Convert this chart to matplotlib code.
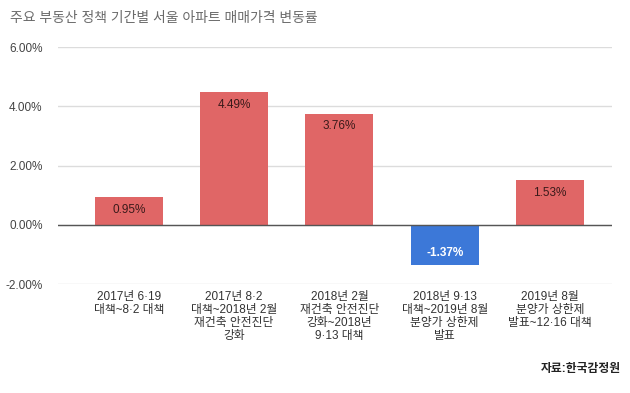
import matplotlib
matplotlib.use("Agg")
import matplotlib.pyplot as plt
from matplotlib.ticker import FuncFormatter

# 숫자/기호는 Liberation Sans, 한글은 Noto Sans CJK KR 로 넘어감
plt.rcParams['font.family'] = ['Liberation Sans', 'Noto Sans CJK KR', 'DejaVu Sans']

# 데이터: 정책 기간별 서울 아파트 매매가격 변동률 (%)
기간 = [
    "2017년 6·19\n대책~8·2 대책",
    "2017년 8·2\n대책~2018년 2월\n재건축 안전진단\n강화",
    "2018년 2월\n재건축 안전진단\n강화~2018년\n9·13 대책",
    "2018년 9·13\n대책~2019년 8월\n분양가 상한제\n발표",
    "2019년 8월\n분양가 상한제\n발표~12·16 대책",
]
변동률 = [0.95, 4.49, 3.76, -1.37, 1.53]
y_눈금 = [-2, 0, 2, 4, 6]

RED = "#e06666"
BLUE = "#3c78d8"

fig = plt.figure(figsize=(6.3, 3.93), dpi=100)
ax = fig.add_axes([0.092, 0.277, 0.879, 0.603])

x = list(range(len(기간)))
cores = [RED if v >= 0 else BLUE for v in 변동률]
ax.bar(x, 변동률, width=0.646, color=cores, zorder=3)

# 막대 안쪽 값 라벨
for xi, v in zip(x, 변동률):
    if v >= 0:
        ax.annotate(f"{v:.2f}%", (xi, v), xytext=(0, -5), textcoords="offset points",
                    ha="center", va="top", fontsize=8.5, color="#3a1a1a")
    else:
        ax.annotate(f"{v:.2f}%", (xi, v), xytext=(0, 5), textcoords="offset points",
                    ha="center", va="bottom", fontsize=8.5, color="white",
                    fontweight="bold")

ax.set_xlim(-0.674, 4.587)
ax.set_ylim(-2, 6)
ax.set_yticks(y_눈금)
ax.yaxis.set_major_formatter(FuncFormatter(lambda v, p: f"{v:.2f}%"))
ax.tick_params(axis="y", length=0, labelsize=8.5, labelcolor="#444444", pad=11)
ax.set_xticks(x)
ax.set_xticklabels(기간, fontsize=8.5, color="#333333", linespacing=1.1)
ax.tick_params(axis="x", length=0, pad=5)

ax.grid(axis="y", color="#dcdcdc", linewidth=1, zorder=0)
ax.axhline(0, color="#555555", linewidth=1, zorder=4)
for s in ax.spines.values():
    s.set_visible(False)

fig.text(0.016, 0.955, "주요 부동산 정책 기간별 서울 아파트 매매가격 변동률",
         fontsize=10, color="#6a6a6a", ha="left", va="center")
fig.text(0.985, 0.062, "자료:한국감정원", fontsize=8.5, fontweight="bold",
         color="#222222", ha="right", va="center")

fig.savefig("out.png", dpi=100)
